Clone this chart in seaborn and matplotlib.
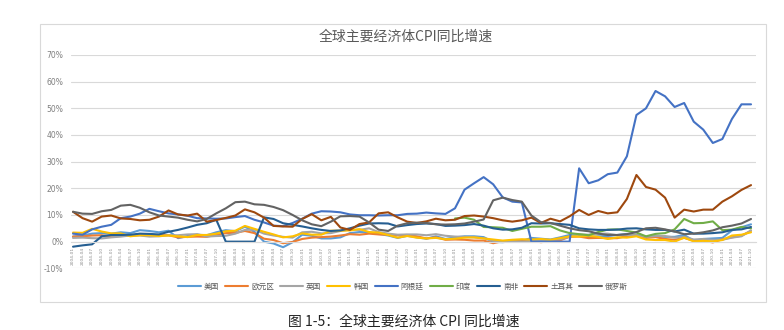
import matplotlib
matplotlib.use("Agg")
import matplotlib.pyplot as plt
from matplotlib.patches import Rectangle
from matplotlib.lines import Line2D
import seaborn as sns
import pandas as pd
import numpy as np

# quarterly category labels
quarters = [f"{y}-{m:02d}" for y in range(2004, 2022) for m in (1, 4, 7, 10)]

series_names = ["美国", "欧元区", "英国", "韩国", "阿根廷", "印度", "南非", "土耳其", "俄罗斯"]
colors = ["#5B9BD5", "#ED7D31", "#A5A5A5", "#FFC000", "#4472C4",
          "#70AD47", "#255E91", "#9E480E", "#636363"]

us = [1.9, 2.3, 3.0, 3.2, 3.0, 3.5, 3.2, 4.3, 4.0, 3.5, 4.1, 1.3,
      2.1, 2.6, 2.4, 3.5, 4.3, 3.9, 5.6, 3.7, 0.0, -0.7, -2.1, -0.2,
      2.6, 2.2, 1.2, 1.2, 1.6, 3.2, 3.6, 3.5, 2.9, 2.3, 1.4, 2.2,
      1.6, 1.1, 2.0, 1.0, 1.6, 2.0, 2.0, 1.7, -0.1, -0.2, 0.2, 0.2,
      1.4, 1.1, 0.8, 1.6, 2.5, 2.2, 1.7, 2.0, 2.1, 2.5, 2.9, 2.5,
      1.6, 2.0, 1.8, 1.8, 2.5, 0.3, 1.0, 1.2, 1.4, 4.2, 5.4, 6.5]
euro = [1.9, 2.0, 2.3, 2.4, 1.9, 2.1, 2.2, 2.5, 2.4, 2.5, 2.4, 1.6,
        1.8, 1.9, 1.8, 2.6, 3.2, 3.3, 4.0, 3.2, 1.1, 0.6, -0.6, -0.1,
        1.0, 1.5, 1.7, 1.9, 2.3, 2.8, 2.6, 3.0, 2.7, 2.6, 2.4, 2.5,
        2.0, 1.2, 1.6, 0.7, 0.8, 0.7, 0.4, 0.4, -0.6, 0.2, 0.2, 0.1,
        0.3, -0.2, 0.2, 0.5, 1.8, 1.9, 1.3, 1.4, 1.3, 1.3, 2.1, 2.3,
        1.4, 1.7, 1.0, 0.7, 1.4, 0.3, 0.4, -0.3, 0.9, 1.6, 2.2, 4.1]
uk = [1.4, 1.5, 1.3, 1.2, 1.6, 1.9, 2.3, 2.3, 1.9, 2.0, 2.4, 2.4,
      2.7, 2.8, 1.9, 2.1, 2.2, 3.0, 4.4, 4.5, 3.0, 2.3, 1.8, 1.5,
      3.5, 3.7, 3.1, 3.2, 4.0, 4.5, 4.4, 5.0, 3.6, 3.0, 2.6, 2.7,
      2.7, 2.4, 2.8, 2.2, 1.9, 1.8, 1.6, 1.3, 0.3, -0.1, 0.1, -0.1,
      0.3, 0.3, 0.6, 0.9, 1.8, 2.7, 2.6, 3.0, 3.0, 2.4, 2.5, 2.4,
      1.8, 2.1, 2.1, 1.5, 1.8, 0.8, 1.0, 0.7, 0.7, 1.5, 2.0, 4.2]
korea = [3.4, 3.3, 4.8, 3.8, 3.1, 3.1, 2.0, 2.4, 2.4, 2.1, 2.3, 2.0,
         1.7, 2.5, 2.5, 3.0, 3.9, 4.1, 5.9, 4.8, 3.7, 2.7, 1.6, 2.0,
         3.1, 2.6, 2.6, 4.1, 4.1, 4.2, 4.7, 3.6, 3.4, 2.5, 1.5, 2.1,
         1.5, 1.2, 1.4, 0.9, 1.1, 1.5, 1.6, 1.2, 0.8, 0.4, 0.7, 0.9,
         0.8, 1.0, 0.7, 1.3, 2.0, 1.9, 2.2, 1.8, 1.0, 1.6, 1.5, 2.0,
         0.8, 0.6, 0.6, 0.0, 1.5, 0.1, 0.3, 0.1, 0.6, 2.3, 2.6, 3.5]
argentina = [3.0, 2.6, 4.6, 5.6, 6.3, 8.8, 9.4, 10.5, 12.3, 11.4, 10.6, 10.2,
             9.7, 8.8, 8.7, 8.6, 8.7, 9.2, 9.6, 8.2, 7.2, 6.0, 5.8, 7.0,
             8.6, 10.5, 11.4, 11.3, 11.0, 10.2, 9.9, 9.9, 9.8, 9.9, 9.9, 10.4,
             10.5, 10.9, 10.6, 10.4, 12.5, 19.5, 21.9, 24.2, 21.5, 16.6, 15.0, 14.7,
             0, 0, 0, 0, 0, 27.5, 21.9, 23.0, 25.3, 25.9, 32.0, 47.5,
             50.0, 56.5, 54.5, 50.5, 52.0, 45.0, 42.0, 37.0, 38.5, 46.0, 51.5, 51.5]
india = [np.nan] * 40 + [8.7, 9.0, 8.2, 5.5, 5.4, 5.2, 4.0, 4.8,
                         5.6, 5.6, 5.8, 4.2, 3.2, 2.8, 2.4, 3.6, 4.5, 4.6, 4.0, 3.4,
                         2.0, 2.9, 3.2, 4.6, 8.5, 6.9, 7.0, 7.6, 4.3, 4.5, 5.5, 5.0]
south_africa = [-1.9, -1.4, -1.0, 2.0, 2.5, 2.5, 2.6, 3.0, 2.9, 2.7, 3.7, 4.4,
                5.3, 6.3, 6.9, 8.2, 0, 0, 0, 0, 9.1, 8.5, 6.9, 6.3,
                5.7, 5.0, 4.4, 4.0, 4.2, 5.0, 6.0, 6.8, 6.9, 6.8, 5.7, 6.2,
                6.6, 6.8, 6.6, 5.9, 6.0, 6.2, 6.6, 6.0, 5.0, 4.5, 4.6, 5.2,
                6.9, 6.8, 6.9, 6.6, 6.3, 5.0, 4.6, 4.4, 4.4, 4.5, 4.9, 5.0,
                4.6, 4.4, 4.4, 3.8, 4.5, 3.0, 3.0, 3.2, 3.5, 4.4, 4.6, 5.5]
turkey = [11.2, 8.8, 7.5, 9.4, 9.8, 8.7, 8.5, 8.0, 8.2, 9.4, 11.7, 10.2,
          9.8, 10.5, 7.5, 8.1, 8.9, 9.8, 12.1, 11.0, 9.0, 5.9, 5.7, 5.6,
          8.5, 10.3, 8.0, 9.3, 5.3, 4.4, 6.6, 7.2, 10.6, 11.0, 9.1, 7.5,
          7.0, 7.6, 8.6, 8.0, 8.2, 9.6, 9.8, 9.4, 8.8, 8.0, 7.5, 8.0,
          9.0, 7.0, 8.6, 7.6, 9.5, 11.9, 10.0, 11.5, 10.6, 11.0, 16.0, 25.0,
          20.5, 19.5, 16.5, 9.0, 12.0, 11.3, 12.0, 12.0, 15.0, 17.0, 19.4, 21.2]
russia = [11.2, 10.5, 10.4, 11.4, 11.9, 13.5, 13.8, 12.7, 11.0, 9.8, 9.4, 9.0,
          8.2, 7.6, 8.5, 10.6, 12.5, 14.8, 15.0, 14.0, 13.8, 13.0, 11.8, 10.0,
          8.0, 6.5, 5.8, 7.5, 9.5, 9.6, 9.4, 7.2, 4.5, 4.0, 6.0, 6.9,
          7.1, 7.0, 6.5, 6.4, 6.5, 6.8, 7.5, 8.3, 15.5, 16.5, 15.6, 15.0,
          9.8, 7.3, 7.0, 6.0, 5.0, 4.3, 3.9, 3.0, 2.5, 2.5, 2.8, 3.6,
          5.0, 5.2, 4.6, 3.8, 2.8, 3.0, 3.5, 4.2, 5.4, 6.0, 6.8, 8.5]

all_series = [us, euro, uk, korea, argentina, india, south_africa, turkey, russia]

rows = []
for name, vals in zip(series_names, all_series):
    for i, v in enumerate(vals):
        rows.append({"idx": i, "value": v, "country": name})
df = pd.DataFrame(rows).dropna()

sns.set_theme(style="white")
plt.rcParams["font.family"] = ["Noto Sans CJK SC", "DejaVu Sans"]
plt.rcParams["axes.unicode_minus"] = False

W, H = 784, 330
fig = plt.figure(figsize=(W / 100, H / 100), dpi=100)
ax = fig.add_axes([71.4 / W, 1 - 268.3 / H, (755.8 - 71.4) / W, (268.3 - 55) / H])

palette = dict(zip(series_names, colors))
sns.lineplot(data=df, x="idx", y="value", hue="country", hue_order=series_names,
             palette=palette, linewidth=1.5, legend=False, ax=ax, sort=False)

ax.set_xlim(-0.17, 71.5)
ax.set_ylim(-10, 70)
ax.set_yticks(range(-10, 71, 10))
ax.set_yticklabels([f"{v}%" for v in range(-10, 71, 10)], fontsize=5.5, color="#7F7F7F",
                   family=["DejaVu Sans"])
ax.yaxis.grid(True, color="#D9D9D9", linewidth=0.8)
ax.xaxis.grid(False)
ax.set_axisbelow(True)
for s in ["left", "right", "top"]:
    ax.spines[s].set_visible(False)
ax.spines["bottom"].set_position(("data", 0))
ax.spines["bottom"].set_color("#D9D9D9")
ax.spines["bottom"].set_linewidth(0.8)
ax.set_xticks(range(len(quarters)))
ax.set_xticklabels(quarters, rotation=90, fontsize=3.2, color="#8C8C8C",
                   family=["DejaVu Sans"])
ax.tick_params(axis="x", length=0, pad=4)
ax.tick_params(axis="y", length=0, pad=6)
ax.set_xlabel("")
ax.set_ylabel("")

# chart frame
fig.patches.append(Rectangle((40 / W, 1 - 302 / H), 726 / W, 278 / H, transform=fig.transFigure,
                             fill=False, edgecolor="#D9D9D9", linewidth=0.8))

fig.text(406 / W, 1 - 37 / H, "全球主要经济体CPI同比增速", ha="center", va="center",
         fontsize=10, color="#595959")

handles = [Line2D([0], [0], color=c, lw=1.5) for c in colors]
fig.legend(handles, series_names, loc="center", bbox_to_anchor=(403 / W, 1 - 287 / H),
           ncol=9, frameon=False, fontsize=5.5, handlelength=3.0, columnspacing=0.8,
           handletextpad=0.4, labelcolor="#595959")

fig.text(404 / W, 1 - 322 / H, "图 1-5：全球主要经济体 CPI 同比增速", ha="center", va="center",
         fontsize=10, color="#222222")

fig.savefig("out.png", dpi=100, facecolor="white")
